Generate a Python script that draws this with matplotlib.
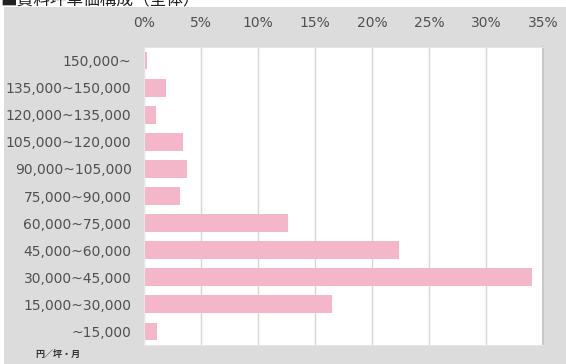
"""Rent per tsubo distribution - horizontal bar chart."""

import matplotlib
matplotlib.use('Agg')
import matplotlib.pyplot as plt
from matplotlib.patches import Rectangle

plt.rcParams['font.family'] = ['DejaVu Sans', 'Noto Sans CJK JP']

# Price bands (yen / tsubo / month), top to bottom as shown
bands = ['150,000~', '135,000~150,000', '120,000~135,000', '105,000~120,000',
         '90,000~105,000', '75,000~90,000', '60,000~75,000', '45,000~60,000',
         '30,000~45,000', '15,000~30,000', '~15,000']
shares = [0.3, 1.9, 1.05, 3.4, 3.75, 3.15, 12.65, 22.4, 34.05, 16.45, 1.15]
xticks = [0, 5, 10, 15, 20, 25, 30, 35]

W, H = 566, 364
fig = plt.figure(figsize=(W / 100, H / 100), dpi=100)
fig.patch.set_facecolor('white')

# grey panel behind everything
fig.patches.append(Rectangle((4 / W, 0), 1 - 4 / W, 1 - 7 / H,
                             transform=fig.transFigure, facecolor='#dcdcdc',
                             edgecolor='none', zorder=-10))

ax = fig.add_axes([144 / W, 19 / H, 399 / W, 298 / H])
ax.set_zorder(1)
ax.set_facecolor('white')

ypos = list(range(len(bands)))
ax.barh(ypos, shares, height=0.66, color='#f4b6c9', zorder=2)

ax.set_ylim(len(bands) - 0.5, -0.5)
ax.set_xlim(0, 35)
ax.set_xticks(xticks)
ax.set_xticklabels([f'{t}%' for t in xticks])
ax.xaxis.tick_top()
ax.set_yticks(ypos)
ax.set_yticklabels(bands)
ax.tick_params(axis='both', length=0, labelsize=10, colors='#505050')
ax.tick_params(axis='x', pad=12)
ax.tick_params(axis='y', pad=9)
ax.grid(axis='x', color='#d6d6d6', linewidth=1, zorder=1)

for side in ['top', 'bottom', 'left']:
    ax.spines[side].set_color('#e6e6e6')
ax.spines['right'].set_color('#c8c8c8')
ax.spines['right'].set_linewidth(1.5)

fig.text(35 / W, 1 - 354 / H, '円／坪・月', family=['Noto Sans CJK JP'],
         fontsize=6.5, fontweight='bold', color='#333333',
         va='center', ha='left')
fig.text(0, 1.0, '■賃料坪単価構成（全体）', family=['Noto Sans CJK JP'],
         fontsize=12, color='#222222', va='center', ha='left')

fig.savefig('out.png', dpi=100, facecolor=fig.get_facecolor())
